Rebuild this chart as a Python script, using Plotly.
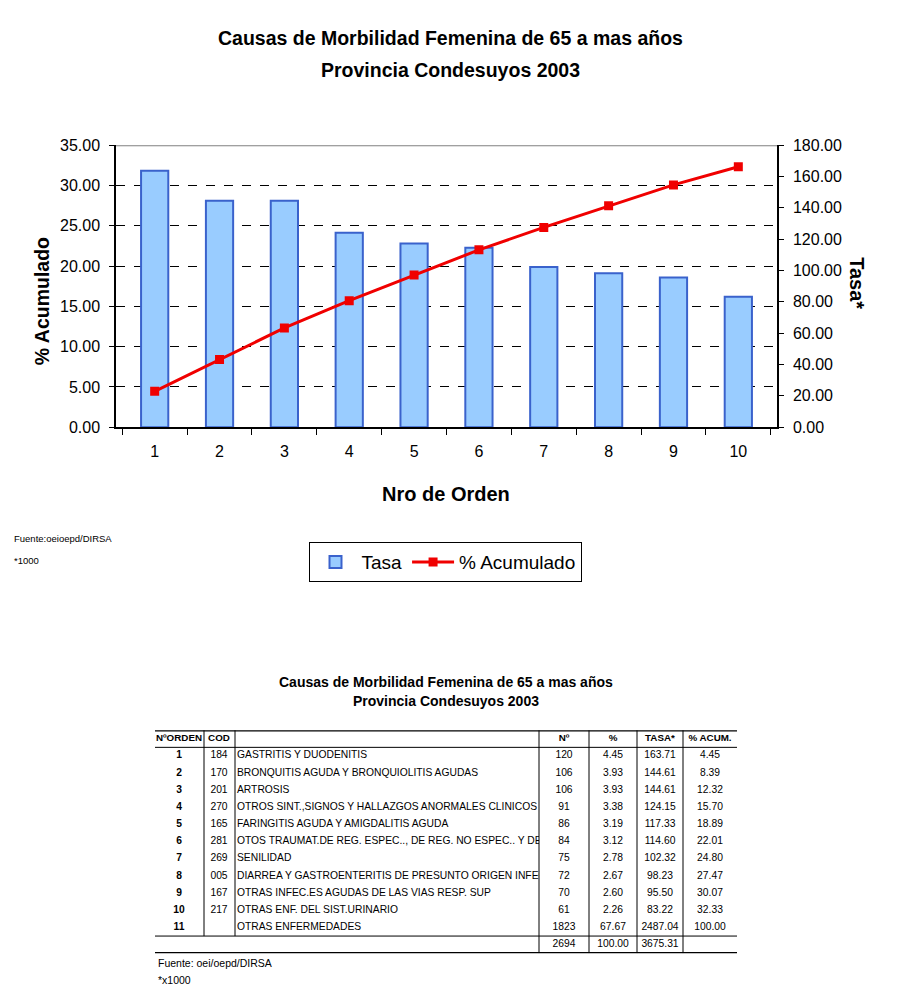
import plotly.graph_objects as go

# ---------------- data ----------------
orden = ["1", "2", "3", "4", "5", "6", "7", "8", "9", "10", "11"]
cod = ["184", "170", "201", "270", "165", "281", "269", "005", "167", "217", ""]
danos = [
    "GASTRITIS Y DUODENITIS",
    "BRONQUITIS AGUDA Y BRONQUIOLITIS AGUDAS",
    "ARTROSIS",
    "OTROS SINT.,SIGNOS Y HALLAZGOS ANORMALES CLINICOS",
    "FARINGITIS AGUDA Y AMIGDALITIS AGUDA",
    "OTOS TRAUMAT.DE REG. ESPEC.., DE REG. NO ESPEC.. Y DE",
    "SENILIDAD",
    "DIARREA Y GASTROENTERITIS DE PRESUNTO ORIGEN INFECC",
    "OTRAS INFEC.ES AGUDAS DE LAS VIAS RESP. SUP",
    "OTRAS ENF. DEL SIST.URINARIO",
    "OTRAS ENFERMEDADES",
]
casos = [120, 106, 106, 91, 86, 84, 75, 72, 70, 61, 1823]
porc = [4.45, 3.93, 3.93, 3.38, 3.19, 3.12, 2.78, 2.67, 2.60, 2.26, 67.67]
tasa = [163.71, 144.61, 144.61, 124.15, 117.33, 114.60, 102.32, 98.23, 95.50, 83.22, 2487.04]
acum = [4.45, 8.39, 12.32, 15.70, 18.89, 22.01, 24.80, 27.47, 30.07, 32.33, 100.00]
total_casos = 2694
total_porc = 100.00
total_tasa = 3675.31
headers = ["NºORDEN", "COD", "DAÑOS", "Nº", "%", "TASA*", "% ACUM."]
n_chart = 10

FONT = "Liberation Sans, Arial, sans-serif"
W, H = 900, 1000


def px(x):
    return x / W


def py(y):
    # target pixel row -> paper fraction (compensates the observed vertical fit of the page)
    return 1 - ((y - 7.8) / 0.983) / H


fig = go.Figure()

# ---------------- chart ----------------
fig.add_trace(go.Bar(
    x=orden[:n_chart], y=tasa[:n_chart], name="Tasa",
    marker=dict(color="#99CCFF", line=dict(color="#3A62CC", width=2)),
    xaxis="x", yaxis="y", hoverinfo="skip"))
fig.add_trace(go.Scatter(
    x=orden[:n_chart], y=acum[:n_chart], name="% Acumulado",
    mode="lines+markers",
    line=dict(color="#F00000", width=3),
    marker=dict(symbol="square", size=9, color="#F00000"),
    xaxis="x", yaxis="y2", hoverinfo="skip"))

# ---------------- table (text marks on hidden axes) ----------------
rows = list(range(1, len(orden) + 1))
col_centers = {"orden": 179, "cod": 219, "casos": 564, "porc": 613, "tasa": 660, "acum": 710}
tf = dict(family=FONT, size=10.3, color="black")


def text_trace(xs, ys, texts, xaxis="x3", yaxis="y3", pos="middle center", clip=False, font=tf):
    return go.Scatter(x=xs, y=ys, text=texts, mode="text", textposition=pos,
                      textfont=font, xaxis=xaxis, yaxis=yaxis, showlegend=False,
                      hoverinfo="skip", cliponaxis=clip)


# header
hx = [179, 219, 387, 564, 613, 660, 710]
fig.add_trace(text_trace(hx, [0] * len(headers), ["<b>%s</b>" % h for h in headers],
                         font=dict(family=FONT, size=9.8, color="black")))
# body
fig.add_trace(text_trace([col_centers["orden"]] * len(orden), rows, ["<b>%s</b>" % o for o in orden]))
fig.add_trace(text_trace([col_centers["cod"]] * len(cod), rows, cod))
fig.add_trace(text_trace([237] * len(danos), rows, danos, xaxis="x4", yaxis="y4",
                         pos="middle right", clip=True))
fig.add_trace(text_trace([col_centers["casos"]] * len(casos), rows, [str(v) for v in casos]))
fig.add_trace(text_trace([col_centers["porc"]] * len(porc), rows, ["%.2f" % v for v in porc]))
fig.add_trace(text_trace([col_centers["tasa"]] * len(tasa), rows, ["%.2f" % v for v in tasa]))
fig.add_trace(text_trace([col_centers["acum"]] * len(acum), rows, ["%.2f" % v for v in acum]))
# total row
trow = len(orden) + 1
fig.add_trace(text_trace([347, col_centers["casos"], col_centers["porc"], col_centers["tasa"]],
                         [trow] * 4,
                         ["<b>Total</b>", str(total_casos), "%.2f" % total_porc, "%.2f" % total_tasa]))

shapes = []
# top border of chart plot area
shapes.append(dict(type="line", xref="x domain", yref="y2", x0=0, x1=1, y0=35, y1=35,
                   line=dict(color="#808080", width=2)))
# table rules
tl, tr = 155, 737
for yv, wd in [(-0.5, 2.5), (0.5, 1), (trow - 0.5, 1), (trow + 0.5, 2.5)]:
    shapes.append(dict(type="line", xref="x3", yref="y3", x0=tl, x1=tr, y0=yv, y1=yv,
                       line=dict(color="black", width=wd)))
for xv in [204, 235]:
    shapes.append(dict(type="line", xref="x3", yref="y3", x0=xv, x1=xv, y0=-0.5, y1=trow - 0.5,
                       line=dict(color="black", width=1)))
for xv in [539, 589, 637, 683]:
    shapes.append(dict(type="line", xref="x3", yref="y3", x0=xv, x1=xv, y0=-0.5, y1=trow + 0.5,
                       line=dict(color="black", width=1)))

annotations = []


def ann(text, x, y, size, bold=False, xanchor="center", angle=0):
    annotations.append(dict(text="<b>%s</b>" % text if bold else text, x=px(x), y=py(y),
                            xref="paper", yref="paper", xanchor=xanchor, yanchor="middle",
                            showarrow=False, textangle=angle,
                            font=dict(family=FONT, size=size, color="black")))


ann("Causas de Morbilidad Femenina de 65 a mas años", 451, 38, 19.5, bold=True)
ann("Provincia Condesuyos 2003", 451, 70, 19.5, bold=True)
ann("% Acumulado", 42, 301, 19.5, bold=True, angle=-90)
ann("Tasa*", 857, 283, 20, bold=True, angle=90)
ann("Nro de Orden", 446, 494, 20, bold=True)
ann("Fuente:oeioepd/DIRSA", 12, 538, 9.5, xanchor="left")
ann("*1000", 12, 560, 9.5, xanchor="left")
ann("Causas de Morbilidad Femenina de 65 a mas años", 446, 682, 14, bold=True)
ann("Provincia Condesuyos 2003", 446, 701, 14, bold=True)
ann("Fuente: oei/oepd/DIRSA", 156, 963, 10.5, xanchor="left")
ann("*x1000", 156, 980, 10.5, xanchor="left")

plot_x = [px(116), px(777)]
plot_y = [py(427), py(145)]
tab_y = [py(953), py(730)]

tick_font = dict(family=FONT, size=16, color="black")

fig.update_layout(
    width=W, height=H,
    margin=dict(l=0, r=0, t=0, b=0),
    paper_bgcolor="white", plot_bgcolor="white",
    font=dict(family=FONT, color="black"),
    bargap=0.58,
    showlegend=True,
    legend=dict(orientation="h", x=px(445), y=py(562), xanchor="center", yanchor="middle",
                bordercolor="black", borderwidth=1, bgcolor="white", itemwidth=42,
                font=dict(family=FONT, size=19, color="black")),
    xaxis=dict(domain=plot_x, anchor="y", type="category", showline=True, linecolor="black",
               linewidth=1.5, ticks="outside", ticklen=6, tickcolor="black", tickson="boundaries",
               tickfont=tick_font, showgrid=False, zeroline=False, ticklabelstandoff=9),
    yaxis=dict(domain=plot_y, anchor="x", side="right", range=[0, 180], dtick=20,
               tickformat=".2f", showline=True, linecolor="black", linewidth=1.5,
               ticks="outside", ticklen=5, tickcolor="black", tickfont=tick_font,
               showgrid=False, zeroline=False, ticklabelstandoff=6),
    yaxis2=dict(overlaying="y", side="left", anchor="x", range=[0, 35], dtick=5,
                tickformat=".2f", showline=True, linecolor="black", linewidth=1.5,
                ticks="outside", ticklen=5, tickcolor="black", tickfont=tick_font,
                showgrid=True, gridcolor="black", gridwidth=1, griddash="dash",
                zeroline=False, ticklabelstandoff=6),
    xaxis3=dict(domain=[0, 1], anchor="y3", range=[0, W], visible=False),
    yaxis3=dict(domain=tab_y, anchor="x3", range=[trow + 0.5, -0.5], visible=False),
    xaxis4=dict(domain=[px(235), px(539)], anchor="y4", range=[235, 539], visible=False),
    yaxis4=dict(domain=tab_y, anchor="x4", range=[trow + 0.5, -0.5], visible=False),
    shapes=shapes,
    annotations=annotations,
)

fig.write_html(
    "out.html",
    config={"displayModeBar": False},
    post_script=(
        "document.documentElement.style.margin='0';"
        "document.body.style.margin='0';document.body.style.padding='0';"
        "document.documentElement.style.overflow='hidden';"
        "var g=document.getElementById('{plot_id}');"
        "g.style.position='fixed';g.style.top='0px';g.style.left='0px';"
    ),
)
